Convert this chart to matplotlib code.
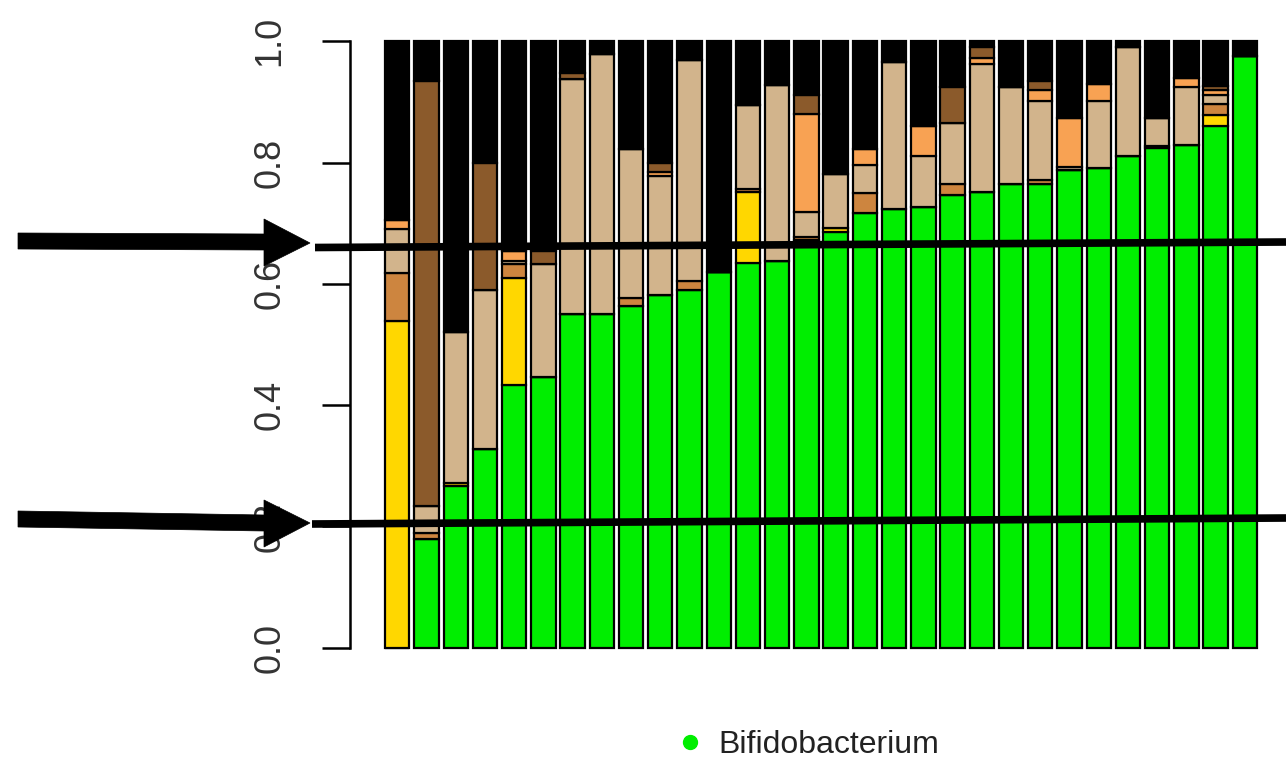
import matplotlib
matplotlib.use("Agg")
import matplotlib.pyplot as plt
import matplotlib.transforms as mtransforms
from matplotlib.patches import Polygon
from matplotlib.lines import Line2D
import numpy as np

plt.rcParams['font.family'] = ['Liberation Sans', 'DejaVu Sans']

# ---- data: segment heights per sample (bottom to top) ----
bifidobacterium = [0.000, 0.180, 0.267, 0.327, 0.434, 0.446, 0.550, 0.550, 0.563, 0.582,
                   0.590, 0.619, 0.635, 0.638, 0.672, 0.685, 0.717, 0.724, 0.727, 0.746,
                   0.751, 0.764, 0.764, 0.787, 0.791, 0.811, 0.824, 0.829, 0.860, 0.975]
gold_taxon      = [0.539, 0.000, 0.004, 0.000, 0.175, 0.000, 0.000, 0.000, 0.000, 0.000,
                   0.000, 0.000, 0.116, 0.000, 0.000, 0.007, 0.000, 0.000, 0.000, 0.000,
                   0.000, 0.000, 0.000, 0.000, 0.000, 0.000, 0.004, 0.000, 0.019, 0.000]
peru_taxon      = [0.079, 0.009, 0.000, 0.000, 0.023, 0.000, 0.000, 0.000, 0.013, 0.000,
                   0.015, 0.000, 0.005, 0.000, 0.006, 0.000, 0.033, 0.000, 0.000, 0.018,
                   0.000, 0.000, 0.007, 0.000, 0.000, 0.000, 0.000, 0.000, 0.018, 0.000]
tan_taxon       = [0.073, 0.045, 0.249, 0.263, 0.006, 0.187, 0.388, 0.429, 0.246, 0.196,
                   0.364, 0.000, 0.139, 0.290, 0.040, 0.089, 0.046, 0.241, 0.083, 0.101,
                   0.211, 0.161, 0.131, 0.006, 0.111, 0.179, 0.046, 0.096, 0.014, 0.000]
sandy_taxon     = [0.014, 0.000, 0.000, 0.000, 0.016, 0.000, 0.000, 0.000, 0.000, 0.006,
                   0.000, 0.000, 0.000, 0.000, 0.162, 0.000, 0.026, 0.000, 0.050, 0.000,
                   0.010, 0.000, 0.017, 0.081, 0.027, 0.000, 0.000, 0.014, 0.008, 0.000]
brown_taxon     = [0.000, 0.700, 0.000, 0.209, 0.000, 0.021, 0.010, 0.000, 0.000, 0.015,
                   0.000, 0.000, 0.000, 0.000, 0.031, 0.000, 0.000, 0.000, 0.000, 0.059,
                   0.018, 0.000, 0.015, 0.000, 0.000, 0.000, 0.000, 0.000, 0.008, 0.000]

series = [bifidobacterium, gold_taxon, peru_taxon, tan_taxon, sandy_taxon, brown_taxon]
colors = ['#00EE00', '#FFD700', '#CD853F', '#D2B48C', '#F8A253', '#8B5A2B']
other_color = '#000000'

y_ticks = [0.0, 0.2, 0.4, 0.6, 0.8, 1.0]
y_tick_labels = ['0.0', '0.2', '0.4', '0.6', '0.8', '1.0']
legend_label = 'Bifidobacterium'

# ---- figure ----
W, H = 1286, 758
fig = plt.figure(figsize=(W / 100, H / 100), dpi=100)
ax = fig.add_axes([350 / W, (H - 672) / H, 947 / W, 655 / H])

n = len(bifidobacterium)
x = 0.2 + 1.2 * np.arange(n) + 0.5  # R barplot default spacing
bottom = np.zeros(n)
for vals, col in zip(series, colors):
    v = np.array(vals)
    ax.bar(x, v, width=1.0, bottom=bottom, color=col, edgecolor='black', linewidth=1.6)
    bottom += v
other = 1.0 - bottom
ax.bar(x, other, width=1.0, bottom=bottom, color=other_color, edgecolor='black', linewidth=1.6)

ax.set_xlim(-1.24, 37.64)
ax.set_ylim(-0.04, 1.04)
for s in ['top', 'right', 'bottom']:
    ax.spines[s].set_visible(False)
ax.spines['left'].set_bounds(0, 1)
ax.spines['left'].set_linewidth(1.8)
ax.set_xticks([])
ax.set_yticks(y_ticks)
ax.set_yticklabels(y_tick_labels, rotation=90, va='center', fontsize=26, color='#333333')
ax.tick_params(axis='y', length=20, width=1.8, pad=25, direction='out')
ax.set_facecolor('none')

# ---- overlay arrows and lines (pixel coordinates from top-left) ----
pix = mtransforms.Affine2D().scale(1 / W, -1 / H).translate(0, 1) + fig.transFigure

arrow1 = [(18, 233), (264, 234), (264, 219), (310, 243), (264, 266), (264, 250), (18, 249)]
arrow2 = [(18, 511), (264, 515), (264, 500), (310, 523), (264, 547), (264, 531), (18, 527)]
for pts in (arrow1, arrow2):
    fig.add_artist(Polygon(pts, closed=True, facecolor='black', edgecolor='black',
                           linewidth=0.5, transform=pix))

fig.add_artist(Line2D([315, W], [247.5, 242], color='black', linewidth=5.5,
                      solid_capstyle='butt', transform=pix))
fig.add_artist(Line2D([312, W], [524, 518], color='black', linewidth=5.5,
                      solid_capstyle='butt', transform=pix))

# ---- legend ----
handle = Line2D([], [], marker='o', linestyle='none', markersize=10,
                markerfacecolor='#00EE00', markeredgecolor='#00EE00')
fig.legend([handle], [legend_label], loc='center', bbox_to_anchor=(808 / W, 1 - 745 / H),
           frameon=False, fontsize=23, handlelength=0.8, handletextpad=0.5,
           labelcolor='#222222')

fig.savefig('out.png', dpi=100)
